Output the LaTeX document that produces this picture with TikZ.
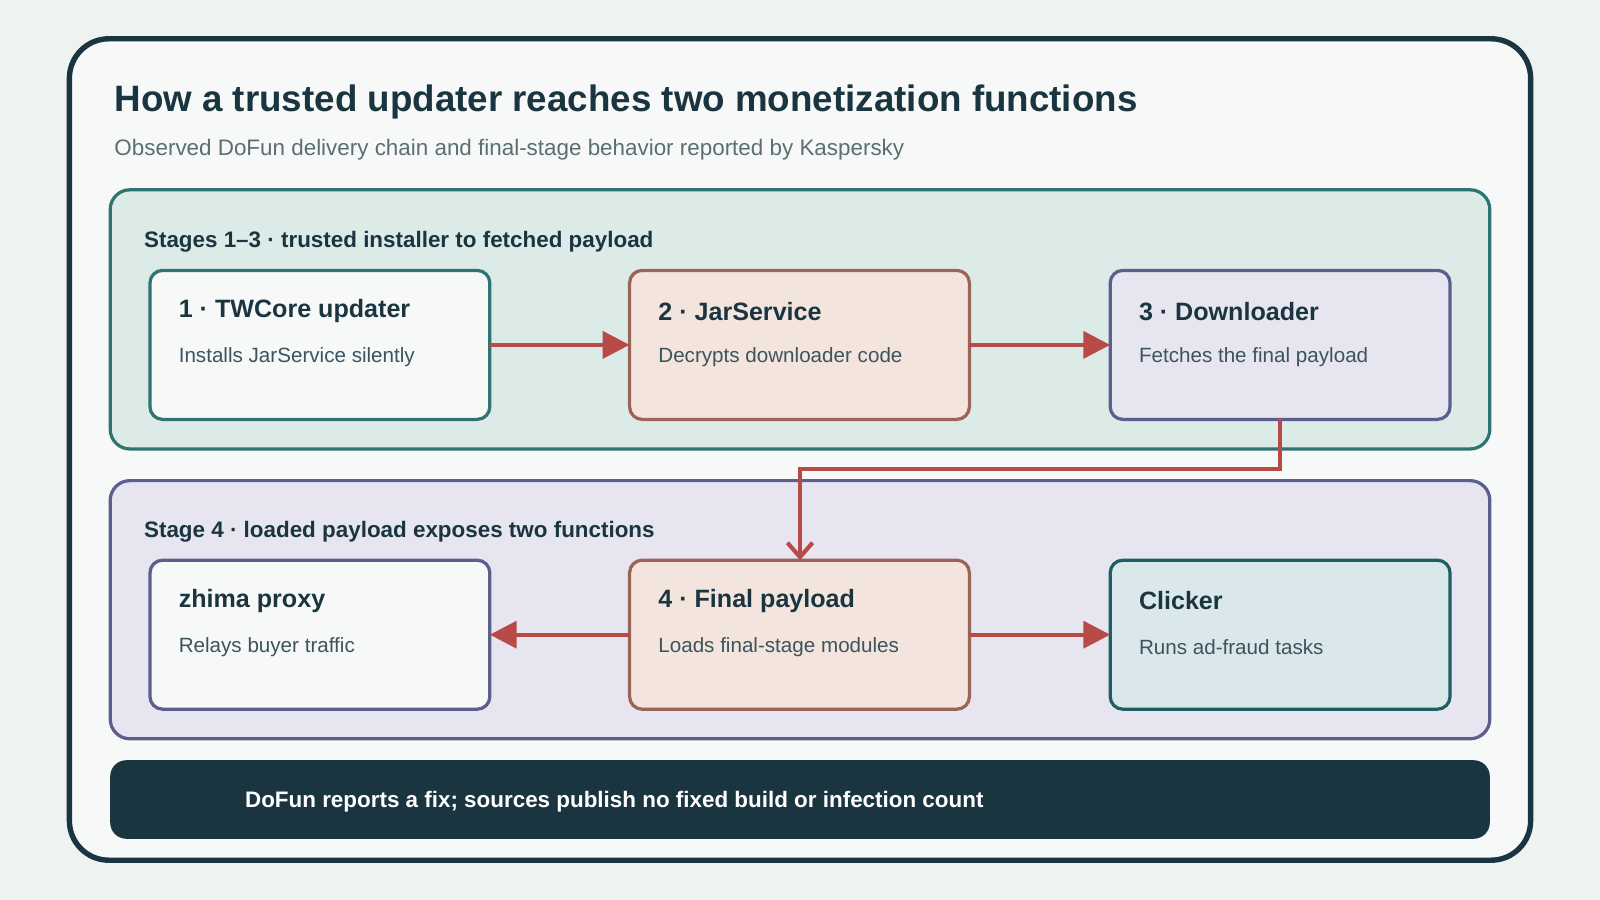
\documentclass[tikz,border=0pt]{standalone}
\usepackage{fontspec}
\setmainfont{Liberation Sans}
\usetikzlibrary{arrows.meta}
\definecolor{bg}{HTML}{EEF2F1}
\definecolor{card}{HTML}{F7F9F8}
\definecolor{ink}{HTML}{1B3540}
\definecolor{sub}{HTML}{5B6E72}
\definecolor{tealb}{HTML}{2F7373}
\definecolor{tealf}{HTML}{DDEBE8}
\definecolor{purb}{HTML}{5A5F8E}
\definecolor{purf}{HTML}{E6E5F0}
\definecolor{brb}{HTML}{9A6458}
\definecolor{brf}{HTML}{F3E5DD}
\definecolor{clf}{HTML}{DAE8EC}
\definecolor{clb}{HTML}{1F5E63}
\definecolor{arr}{HTML}{B84A48}
\begin{document}
\begin{tikzpicture}[x=0.02cm,y=-0.02cm,
  box/.style={draw,line width=1.8pt,rounded corners=7pt},
  ttl/.style={anchor=west,font=\bfseries\fontsize{14}{16}\selectfont,text=ink},
  dsc/.style={anchor=west,font=\fontsize{11.5}{14}\selectfont,text=ink!85},
  plab/.style={anchor=west,font=\bfseries\fontsize{12.5}{15}\selectfont,text=ink},
  conn/.style={draw=arr,line width=2.3pt,-{Triangle[length=15pt,width=15pt]}}]
\useasboundingbox (0,0) rectangle (1568,882);
\fill[bg] (0,0) rectangle (1568,882);
\draw[line width=3pt,draw=ink,fill=card,rounded corners=22pt] (68,38) rectangle (1500,843);
\node[anchor=west,font=\bfseries\fontsize{20.5}{24}\selectfont,text=ink] (title) at (106,100) {How a trusted updater reaches two monetization functions};
\node[anchor=west,font=\fontsize{12.5}{15}\selectfont,text=sub] (subt) at (106,147) {Observed DoFun delivery chain and final-stage behavior reported by Kaspersky};
% panels
\draw[line width=1.8pt,draw=tealb,fill=tealf,rounded corners=11pt] (108,186) rectangle (1460,440);
\node[plab] (p1) at (135,237) {Stages 1–3 · trusted installer to fetched payload};
\draw[line width=1.8pt,draw=purb,fill=purf,rounded corners=11pt] (108,471) rectangle (1460,724);
\node[plab] (p2) at (135,521) {Stage 4 · loaded payload exposes two functions};
% row 1
\draw[box,draw=tealb,fill=card] (147,265) rectangle (480,411);
\draw[box,draw=brb,fill=brf] (617,265) rectangle (950,411);
\draw[box,draw=purb,fill=purf] (1088,265) rectangle (1421,411);
\node[ttl] at (169,305) {1 · TWCore updater};
\node[dsc] at (169,350) {Installs JarService silently};
\node[ttl] at (639,305) {2 · JarService};
\node[dsc] at (639,350) {Decrypts downloader code};
\node[ttl] at (1110,305) {3 · Downloader};
\node[dsc] at (1110,350) {Fetches the final payload};
\coordinate (a1) at (480,338); \coordinate (b1) at (617,338);
\coordinate (a2) at (950,338); \coordinate (b2) at (1088,338);
\draw[conn] (a1) -- (b1);
\draw[conn] (a2) -- (b2);
% row 2
\draw[box,draw=purb,fill=card] (147,549) rectangle (480,695);
\draw[box,draw=brb,fill=brf] (617,549) rectangle (950,695);
\draw[box,draw=clb,fill=clf] (1088,549) rectangle (1421,695);
\node[ttl] at (169,589) {zhima proxy};
\node[dsc] at (169,634) {Relays buyer traffic};
\node[ttl] at (639,589) {4 · Final payload};
\node[dsc] at (639,634) {Loads final-stage modules};
\node[ttl] at (1110,589) {Clicker};
\node[dsc] at (1110,634) {Runs ad-fraud tasks};
\coordinate (c1) at (617,622); \coordinate (d1) at (480,622);
\coordinate (c2) at (950,622); \coordinate (d2) at (1088,622);
\draw[conn] (c1) -- (d1);
\draw[conn] (c2) -- (d2);
% down connector
\coordinate (s) at (1254,411); \coordinate (t) at (784,549);
\draw[draw=arr,line width=2.3pt,-{Straight Barb[length=8pt,width=14pt,line width=2.3pt]}] (s) |- (784,460) -- (t);
% footer
\fill[ink,rounded corners=9pt] (108,745) rectangle (1460,822);
\node[anchor=west,font=\bfseries\fontsize{12.5}{15}\selectfont,text=white] (foot) at (234,786) {DoFun reports a fix; sources publish no fixed build or infection count};
\end{tikzpicture}
\end{document}
